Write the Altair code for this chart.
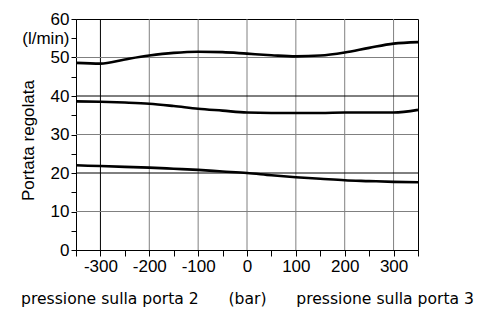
import altair as alt
import pandas as pd

pressure = [-350, -300, -250, -200, -150, -100, -50, 0, 50, 100, 150, 200, 250, 300, 350]
flow_top = [48.6, 48.4, 49.5, 50.5, 51.2, 51.5, 51.4, 51.0, 50.6, 50.3, 50.5, 51.3, 52.5, 53.6, 54.0]
flow_mid = [38.6, 38.5, 38.3, 38.0, 37.4, 36.7, 36.2, 35.7, 35.6, 35.6, 35.6, 35.7, 35.7, 35.7, 36.4]
flow_low = [22.0, 21.8, 21.6, 21.4, 21.1, 20.8, 20.4, 20.0, 19.4, 18.9, 18.5, 18.1, 17.9, 17.7, 17.6]

x_grid = [-300, -200, -100, 0, 100, 200, 300]
x_grid_dark = [True, False, False, False, False, False, False]
y_grid = [10, 20, 30, 40, 50]
y_grid_dark = [False, True, False, True, False]

x_ticks = list(range(-350, 351, 50))
y_ticks = list(range(0, 61, 5))

rows = []
for name, vals in [("top", flow_top), ("mid", flow_mid), ("low", flow_low)]:
    for p, v in zip(pressure, vals):
        rows.append({"series": name, "p": p, "q": v})
df = pd.DataFrame(rows)

xg = pd.DataFrame({"p": x_grid, "dark": x_grid_dark})
yg = pd.DataFrame({"q": y_grid, "dark": y_grid_dark})

nb = "\u00a0"
x_title = "pressione sulla porta 2" + nb * 6 + "(bar)" + nb * 6 + "pressione sulla porta 3"

xscale = alt.Scale(domain=[-350, 350], nice=False, zero=False)
yscale = alt.Scale(domain=[0, 60], nice=False)

x_axis = alt.Axis(values=x_ticks, grid=False, tickSize=6, tickColor="black", domainColor="black",
                  labelExpr="datum.value % 100 == 0 ? ('' + datum.value) : ''",
                  labelFont="Liberation Sans", labelFontSize=17, labelColor="black",
                  labelPadding=2, labelOverlap=False, labelFlush=False, labelBound=False,
                  title=x_title, titleFont="DejaVu Sans", titleFontSize=15.6,
                  titleFontWeight="normal", titleColor="black", titleY=53,
                  titleBaseline="alphabetic")
y_axis = alt.Axis(values=y_ticks, grid=False, tickSize=5, tickColor="black", domainColor="black",
                  labelExpr="datum.value == 55 ? '(l/min)' : (datum.value % 10 == 0 ? ('' + datum.value) : '')",
                  labelFont="Liberation Sans", labelFontSize=17, labelColor="black",
                  labelPadding=2, labelOverlap=False, labelFlush=False, labelBound=False,
                  title="Portata regolata", titleFont="Liberation Sans", titleFontSize=17,
                  titleFontWeight="normal", titleColor="black", titleX=-39, titleY=121)

vgrid = alt.Chart(xg).mark_rule(strokeWidth=1).encode(
    x=alt.X("p:Q", scale=xscale, axis=x_axis),
    color=alt.Color("dark:N", scale=alt.Scale(domain=[True, False], range=["#000000", "#808080"]), legend=None),
)
hgrid = alt.Chart(yg).mark_rule(strokeWidth=1).encode(
    y=alt.Y("q:Q", scale=yscale, axis=y_axis),
    color=alt.Color("dark:N", scale=alt.Scale(domain=[True, False], range=["#000000", "#808080"]), legend=None),
)
lines = alt.Chart(df).mark_line(color="black", strokeWidth=2.6, interpolate="monotone").encode(
    x=alt.X("p:Q", scale=xscale, axis=x_axis),
    y=alt.Y("q:Q", scale=yscale, axis=y_axis),
    detail="series:N",
)

chart = alt.layer(vgrid, hgrid, lines).resolve_scale(color="independent").properties(
    width=342, height=231,
    autosize=alt.AutoSizeParams(type="none"),
    padding={"left": 68, "top": 11, "right": 57, "bottom": 59},
).configure_view(stroke="black", strokeWidth=1)

chart.save("out.html", embed_options={"renderer": "svg", "actions": False})
